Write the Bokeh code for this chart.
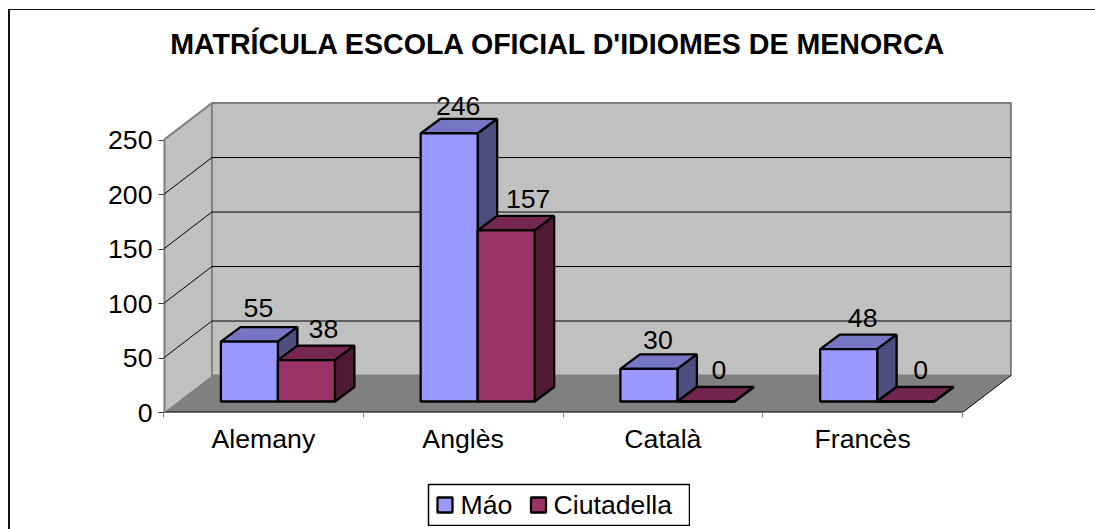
from bokeh.plotting import figure
from bokeh.models import (Range1d, LinearAxis, FixedTicker, ColumnDataSource)
from bokeh.core.properties import value
from bokeh.embed import file_html
from bokeh.resources import INLINE

# ---- data
categories = ["Alemany", "Anglès", "Català", "Francès"]
series_names = ["Máo", "Ciutadella"]
mao = [55, 246, 30, 48]
ciutadella = [38, 157, 0, 0]
y_ticks = [0, 50, 100, 150, 200, 250]
title_text = "MATRÍCULA ESCOLA OFICIAL D'IDIOMES DE MENORCA"

# ---- page geometry: the figure starts at 10,10 on the page (CSS margin + border)
OX, OY = 10, 10
W, H = 1095 - OX, 529 - OY
LEFT, RIGHT = 163 - OX, 1095 - 1013
TOP, BOTTOM = 88 - OY, 529 - 412
CAT_PX = 199.75
UNIT_PX = 272.4 / 250
FONT = "Liberation Sans"
FS = "26.67px"

FRAME_W, FRAME_H = W - LEFT - RIGHT, H - TOP - BOTTOM
x_max = FRAME_W / CAT_PX
y_max = FRAME_H / UNIT_PX

p = figure(width=W, height=H, frame_width=FRAME_W, frame_height=FRAME_H,
           output_backend="svg", toolbar_location=None,
           x_range=Range1d(0, x_max), y_range=Range1d(0, y_max),
           x_axis_type=None, y_axis_type=None,
           min_border_left=LEFT, min_border_right=RIGHT,
           min_border_top=TOP, min_border_bottom=BOTTOM,
           styles={"margin-left": "8px", "margin-top": "9px",
                   "border-left": "2px solid #111111", "border-top": "1px solid #111111"})
p.grid.visible = False
p.outline_line_color = None
p.background_fill_color = None
p.border_fill_color = "white"

def px_x(v): return v / CAT_PX
def px_y(v): return v / UNIT_PX

n = len(categories)
WALL_DX, WALL_DY = px_x(48.4), px_y(37.0)

# walls and floor
p.patch([0, WALL_DX, WALL_DX, 0], [0, WALL_DY, 250 + WALL_DY, 250], fill_color="#C0C0C0", line_color=None)
p.patch([WALL_DX, n + WALL_DX, n + WALL_DX, WALL_DX], [WALL_DY, WALL_DY, 250 + WALL_DY, 250 + WALL_DY],
        fill_color="#C0C0C0", line_color="#808080", line_width=2)
p.patch([0, n, n + WALL_DX, WALL_DX], [0, 0, WALL_DY, WALL_DY], fill_color="#808080", line_color=None)
p.line([0, n], [0, 0], line_color="black", line_width=2)
p.line([n, n + WALL_DX], [0, WALL_DY], line_color="black", line_width=1)
p.line([0, 0], [0, 250], line_color="#808080", line_width=4)

# gridlines along side wall and back wall
for t in y_ticks[1:-1]:
    p.line([0, WALL_DX, n + WALL_DX], [t, t + WALL_DY, t + WALL_DY], line_color="#000000", line_width=1)
p.line([0, WALL_DX], [250, 250 + WALL_DY], line_color="#808080", line_width=2)

# 3-D bars
GAP = px_x(57.4)
BAR = px_x(57.0)
BASE = px_y(11.0)
DX, DY = px_x(19.5), px_y(14.5)
EDGE = 2.3

def faces(vals, slot):
    x0 = [i + GAP + slot * BAR for i in range(n)]
    x1 = [a + BAR for a in x0]
    front = ([[a, b, b, a] for a, b in zip(x0, x1)], [[BASE, BASE, BASE + v, BASE + v] for v in vals])
    top = ([[a, b, b + DX, a + DX] for a, b in zip(x0, x1)],
           [[BASE + v, BASE + v, BASE + v + DY, BASE + v + DY] for v in vals])
    side = ([[b, b + DX, b + DX, b] for b in x1],
            [[BASE, BASE + DY, BASE + v + DY, BASE + v] for v in vals])
    return front, top, side

series_colors = ["#9999FF", "#993366"]
series = [(mao, 0, series_colors[0], "#7676C4", "#4D4D80"),
          (ciutadella, 1, series_colors[1], "#732650", "#4D1933")]
for vals, slot, c_front, c_top, c_side in series:
    front, top, side = faces(vals, slot)
    p.patches(top[0], top[1], fill_color=c_top, line_color="black", line_width=EDGE)
    p.patches(side[0], side[1], fill_color=c_side, line_color="black", line_width=EDGE)
    p.patches(front[0], front[1], fill_color=c_front, line_color="black", line_width=EDGE)

# value labels, above each bar
mao_label_nudge = [9, 9, 9, 14]
ciutadella_label_nudge = [17, 22, 13, 15]
mao_label_rise = [33.5, 31.5, 28.5, 31.5]
ciutadella_label_rise = [31.5, 31.5, 31.5, 31.5]
label_ceiling = (412 - 105) / UNIT_PX
for vals, slot, nudge, rise in [(mao, 0, mao_label_nudge, mao_label_rise),
                                (ciutadella, 1, ciutadella_label_nudge, ciutadella_label_rise)]:
    src = ColumnDataSource(dict(
        x=[i + GAP + (slot + 0.5) * BAR for i in range(n)],
        y=[min(BASE + v + px_y(r), label_ceiling) for v, r in zip(vals, rise)],
        t=[str(v) for v in vals], dx=nudge))
    p.text("x", "y", text="t", source=src, x_offset="dx", text_align="center", text_baseline="alphabetic",
           text_font=value(FONT), text_font_size=FS, text_color="black")

# axes
yax = LinearAxis(ticker=FixedTicker(ticks=y_ticks))
yax.axis_line_color = None
yax.major_tick_line_color = "#333333"
yax.major_tick_in = 0
yax.major_tick_out = 5
yax.minor_tick_line_color = None
yax.major_label_text_font = FONT
yax.major_label_text_font_size = FS
yax.major_label_text_color = "black"
yax.major_label_standoff = 6
p.add_layout(yax, "left")

xax = LinearAxis(ticker=FixedTicker(ticks=[i + 0.5 for i in range(n)], minor_ticks=list(range(n + 1))),
                 major_label_overrides={i + 0.5: c for i, c in enumerate(categories)})
xax.axis_line_color = None
xax.major_tick_line_color = None
xax.minor_tick_line_color = "#808080"
xax.minor_tick_in = 0
xax.minor_tick_out = 5
xax.major_label_text_font = FONT
xax.major_label_text_font_size = FS
xax.major_label_text_color = "black"
xax.major_label_standoff = 5
p.add_layout(xax, "below")

# title: a small figure of its own laid over the top of the chart
TITLE_W, TITLE_H = 800, 40
t_fig = figure(width=TITLE_W, height=TITLE_H, frame_width=TITLE_W, frame_height=TITLE_H,
               output_backend="svg", toolbar_location=None,
               x_range=Range1d(0, TITLE_W), y_range=Range1d(0, TITLE_H),
               x_axis_type=None, y_axis_type=None, min_border=0,
               styles={"position": "absolute", "left": "158px", "top": "23px"})
t_fig.grid.visible = False
t_fig.outline_line_color = None
t_fig.background_fill_color = None
t_fig.border_fill_color = None
t_fig.text([TITLE_W / 2], [TITLE_H / 2], text=[title_text], text_align="center", text_baseline="middle",
           text_font=value(FONT), text_font_style="bold", text_font_size="28.6px", text_color="black")

# legend box: a small figure of its own laid over the bottom of the chart
LEG_W, LEG_H = 261, 41
q = figure(width=LEG_W + 2, height=LEG_H + 2, frame_width=LEG_W, frame_height=LEG_H,
           output_backend="svg", toolbar_location=None,
           x_range=Range1d(0, LEG_W), y_range=Range1d(0, LEG_H),
           x_axis_type=None, y_axis_type=None, min_border=1,
           styles={"position": "absolute", "left": "427px", "top": "483px"})
q.grid.visible = False
q.outline_line_color = "black"
q.outline_line_width = 1.5
q.background_fill_color = "white"
swatch_left = [9, 102.5]
swatch_size = 15
label_left = [32, 125]
q.patches([[a, a + swatch_size, a + swatch_size, a] for a in swatch_left],
          [[13, 13, 13 + swatch_size, 13 + swatch_size] for a in swatch_left],
          fill_color=series_colors, line_color="black", line_width=EDGE)
q.text(label_left, [21, 21], text=series_names, text_align="left", text_baseline="middle",
       text_font=value(FONT), text_font_size=FS, text_color="black")

open("out.html", "w").write(file_html([p, t_fig, q], INLINE))
